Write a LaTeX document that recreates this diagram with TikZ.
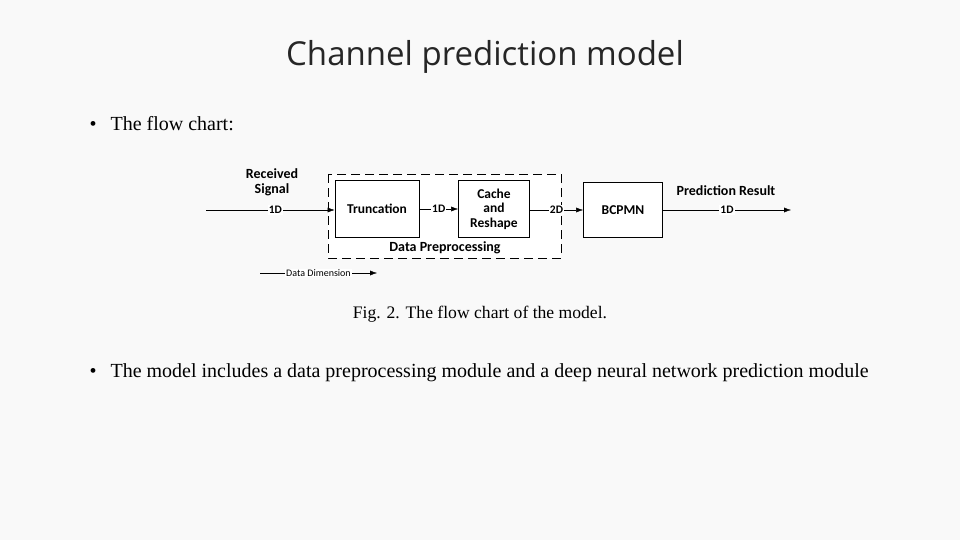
\documentclass[tikz,border=0pt]{standalone}
\usepackage{fontspec}
\setmainfont{Liberation Serif}
\newfontfamily\titlef{Open Sans}
\newfontfamily\diagf{Carlito}
\usetikzlibrary{arrows.meta}
\begin{document}
\begin{tikzpicture}[x=1pt,y=-1pt,
  blk/.style={draw,thick,fill=white,font=\diagf\bfseries\fontsize{13.5}{14.5}\selectfont,align=center,inner sep=0},
  lab/.style={font=\diagf\bfseries\fontsize{11.5}{11.5}\selectfont,fill=white,inner sep=1pt},
  txt/.style={font=\diagf\bfseries\fontsize{14}{15}\selectfont,align=center},
  arr/.style={-{Latex[length=7pt,width=5pt]},thin}]
\fill[white!95!gray] (0,0) rectangle (960,540);
\useasboundingbox (0,0) rectangle (960,540);
\node[font=\titlef\fontsize{33}{36}\selectfont,text=black!85] (title) at (485,57) {Channel prediction model};
\node[font=\fontsize{20}{22}\selectfont,anchor=west] (b1) at (86,124) {\textbullet\hspace{14pt}The flow chart:};
\node[font=\fontsize{17.6}{20}\selectfont] (cap) at (480,314) {Fig. 2. The flow chart of the model.};
\node[font=\fontsize{20}{22}\selectfont,anchor=west] (b2) at (86,373) {\textbullet\hspace{14pt}The model includes a data preprocessing module and a deep neural network prediction module};
\draw[thick,dash pattern=on 9pt off 5pt,fill=white] (328,174) rectangle (561,258);
\node[blk,minimum width=84,minimum height=57] (tr) at (377,209) {Truncation};
\node[blk,minimum width=71,minimum height=57] (ca) at (494,209) {Cache\\and\\Reshape};
\node[blk,minimum width=79,minimum height=55] (bc) at (623,210) {BCPMN};
\node[txt] (dp) at (445,248) {Data Preprocessing};
\node[txt] (rs) at (272,182) {Received\\Signal};
\node[txt] (pr) at (726,191) {Prediction Result};
\coordinate (in) at (206,210);
\coordinate (out) at (791,210);
\draw[arr] (in) -- node[lab,pos=0.54]{1D} (tr.west|-in);
\draw[arr] (tr) -- node[lab]{1D} (ca);
\draw[arr] (ca.east|-in) -- node[lab]{2D} (bc.west|-in);
\draw[arr] (bc.east|-in) -- node[lab,pos=0.5]{1D} (out);
\coordinate (l1) at (260,273);
\coordinate (l2) at (377,273);
\draw[arr] (l1) -- node[lab,font=\diagf\fontsize{10}{10}\selectfont,pos=0.5]{Data Dimension} (l2);
\end{tikzpicture}
\end{document}
